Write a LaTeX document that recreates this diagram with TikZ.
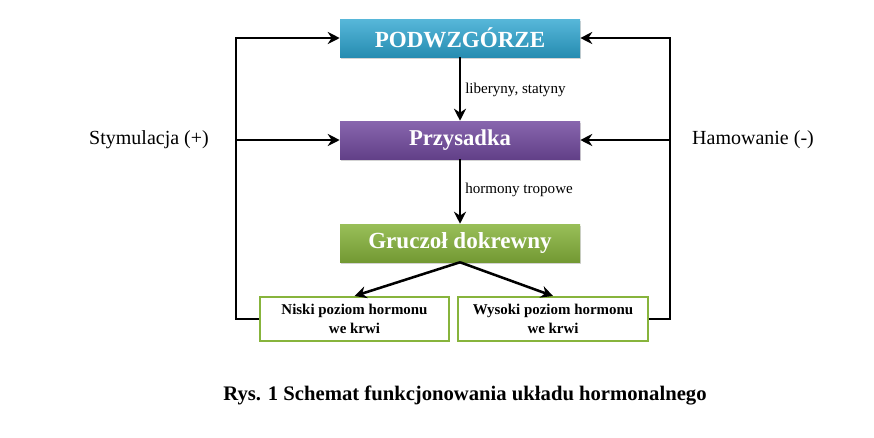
\documentclass[tikz,border=0pt]{standalone}
\usepackage{fontspec}
\setmainfont{Liberation Serif}
\usetikzlibrary{arrows.meta,positioning,shadows}
\definecolor{cpodw}{RGB}{45,165,208}
\definecolor{cprzys}{RGB}{115,75,160}
\definecolor{cgrucz}{RGB}{135,180,60}
\tikzset{
  mainbox/.style={rectangle,draw=none,minimum width=180pt,minimum height=28.5pt,
    align=center,inner sep=2pt,text=white,font=\bfseries,
    drop shadow={shadow xshift=1pt,shadow yshift=-1.5pt,opacity=0.35}},
  podwbox/.style={mainbox,top color=cpodw!80!white,bottom color=cpodw!85!black},
  przysbox/.style={mainbox,top color=cprzys!85!white,bottom color=cprzys!85!black},
  gruczbox/.style={mainbox,top color=cgrucz!85!white,bottom color=cgrucz!85!black},
  levelbox/.style={rectangle,draw=cgrucz,line width=1.5pt,fill=white,
    minimum width=142pt,minimum height=33pt,align=center,inner sep=2pt,
    font=\fontsize{11.2}{14}\selectfont\bfseries},
  arr/.style={-{Stealth[length=9pt,width=9pt]},line width=1.9pt},
  lab/.style={font=\fontsize{11.3}{13}\selectfont,anchor=west,inner sep=0pt},
  sidelab/.style={font=\fontsize{15}{17}\selectfont,inner sep=0pt}
}
\begin{document}
\begin{tikzpicture}[x=0.75pt,y=-0.75pt]
  \useasboundingbox (0,0) rectangle (874,437);
  % glowne bloki
  \node[podwbox,font=\fontsize{17.3}{20}\selectfont\bfseries] (podw) at (460,38) {PODWZGÓRZE};
  \node[przysbox,font=\fontsize{17}{20}\selectfont\bfseries] (przys) at (460,140) {Przysadka};
  \node[gruczbox,font=\fontsize{17.3}{20}\selectfont\bfseries] (grucz) at (460,243) {Gruczoł dokrewny};
  \node[levelbox] (niski) at (354.5,319) {Niski poziom hormonu\\we krwi};
  \node[levelbox] (wysoki) at (553,319) {Wysoki poziom hormonu\\we krwi};
  % narozniki petli
  \coordinate (lt) at (236,38);
  \coordinate (lm) at (236,140);
  \coordinate (rt) at (670,38);
  \coordinate (rm) at (670,140);
  % polaczenia
  \draw[arr] (podw) -- (przys);
  \draw[arr] (przys) -- (grucz);
  \node[lab] (lib) at (465,90) {liberyny, statyny};
  \node[lab] (trop) at (465,190) {hormony tropowe};
  \draw[arr] (grucz.south) -- (niski.north);
  \draw[arr] (grucz.south) -- (wysoki.north);
  \draw[arr] (niski.west) -| (lt) -- (podw.west);
  \draw[arr] (lm) -- (przys.west);
  \draw[arr] (wysoki.east) -| (rt) -- (podw.east);
  \draw[arr] (rm) -- (przys.east);
  % opisy
  \node[sidelab] (stym) at (149,140) {Stymulacja (+)};
  \node[sidelab] (ham) at (753,140) {Hamowanie (-)};
  \node[font=\fontsize{15.5}{18}\selectfont\bfseries] (rys) at (465,395)
    {Rys. 1 Schemat funkcjonowania układu hormonalnego};
\end{tikzpicture}
\end{document}
